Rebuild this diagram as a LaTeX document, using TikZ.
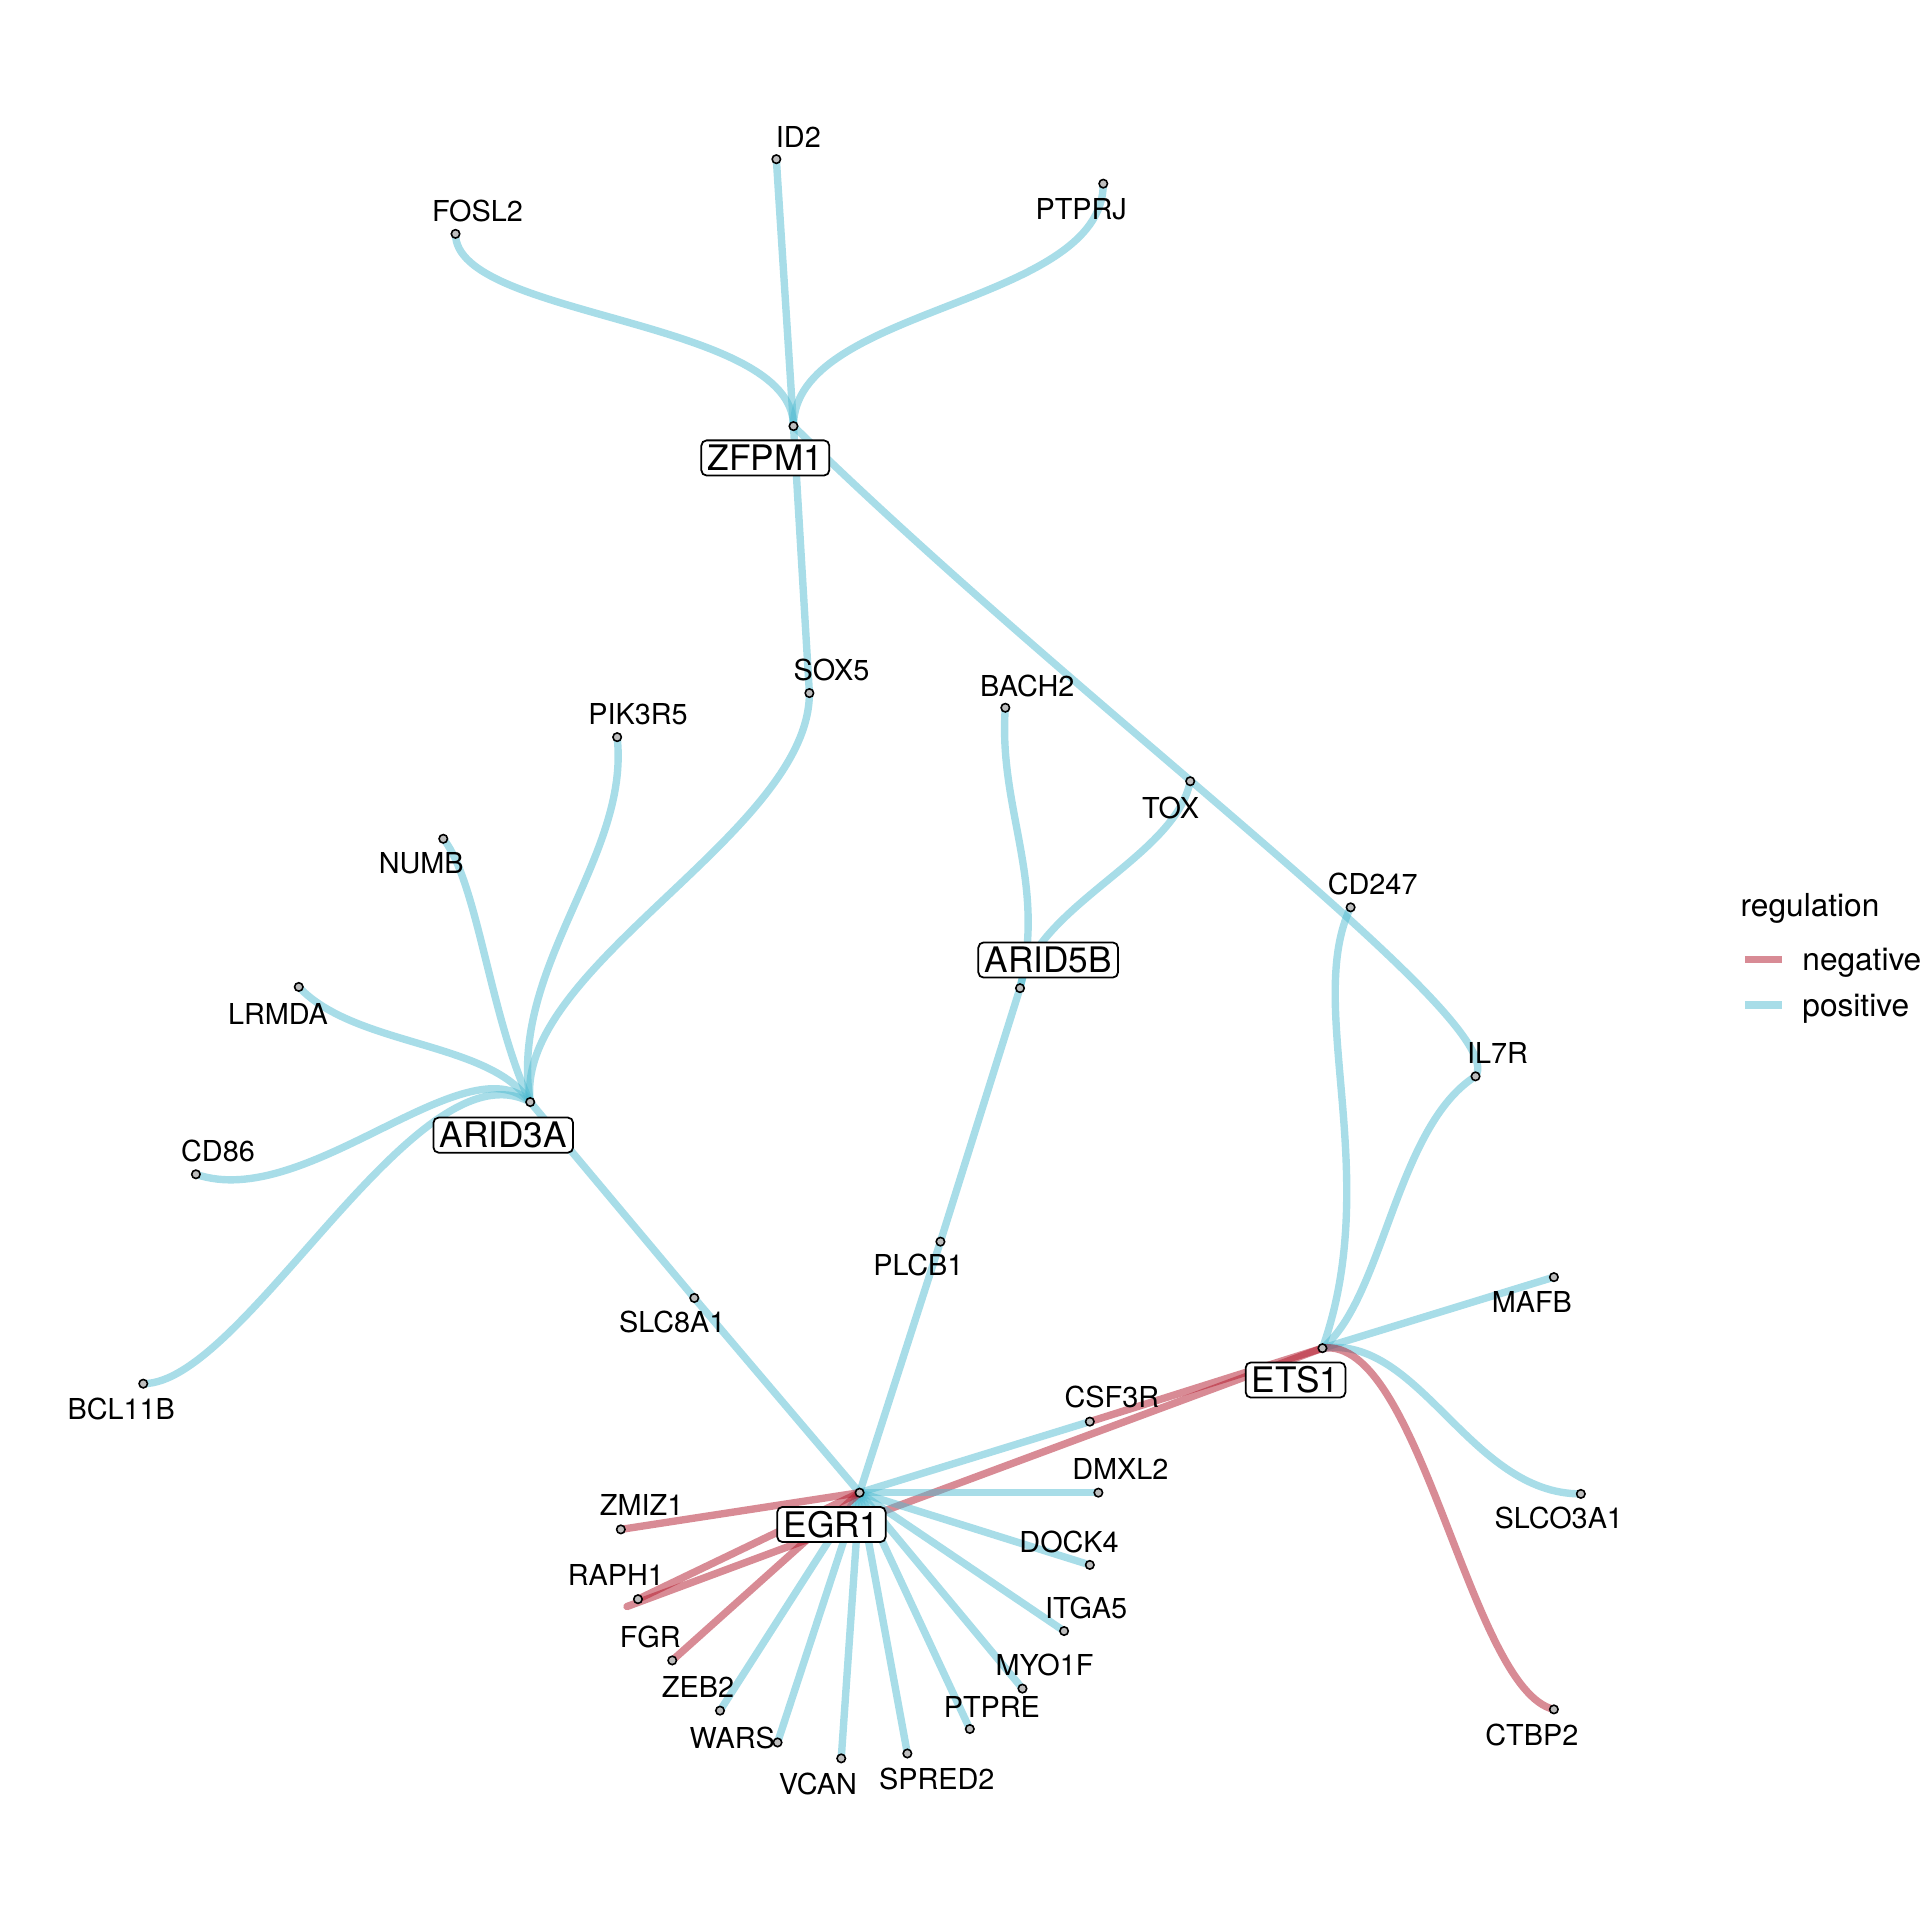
\documentclass[tikz,border=0pt]{standalone}
\usepackage{fontspec}
\setmainfont{TeX Gyre Heros}
\usetikzlibrary{backgrounds}
\definecolor{posblue}{RGB}{81,187,209}
\definecolor{negred}{RGB}{178,24,43}
\definecolor{dotgray}{RGB}{190,190,190}

\begin{document}
\begin{tikzpicture}[x=0.012245cm,y=-0.012245cm]
  \tikzstyle{point}=[circle,draw=black,fill=dotgray,line width=0.45pt,inner sep=0pt,minimum size=2.4pt]
  \tikzstyle{gene}=[font=\fontsize{8.2}{9}\selectfont,inner sep=0pt]
  \tikzstyle{tf}=[draw=black,fill=white,rounded corners=1.5pt,line width=0.5pt,font=\fontsize{10}{12}\selectfont,inner xsep=1.8pt,inner ysep=1.4pt,text height=7.2pt,text depth=0pt]
  \tikzstyle{posedge}=[draw=posblue,line width=2.1pt,draw opacity=0.5,line cap=round]
  \tikzstyle{negedge}=[draw=negred,line width=2.1pt,draw opacity=0.5,line cap=round]
  \useasboundingbox (0,0) rectangle (1568,1568);
  % regulators
  \node[point] (zfpm1) at (648,348) {};
  \node[point] (arid5b) at (833,807) {};
  \node[point] (arid3a) at (433,900) {};
  \node[point] (ets1) at (1080,1101) {};
  \node[point] (egr1) at (702,1219) {};
  % targets
  \node[point] (id2) at (634,130) {};
  \node[point] (fosl2) at (372,191) {};
  \node[point] (ptprj) at (901,150) {};
  \node[point] (sox5) at (661,566) {};
  \node[point] (pik3r5) at (504,602) {};
  \node[point] (bach2) at (821,578) {};
  \node[point] (tox) at (972,638) {};
  \node[point] (numb) at (362,685) {};
  \node[point] (cd247) at (1103,741) {};
  \node[point] (lrmda) at (244,806) {};
  \node[point] (il7r) at (1205,879) {};
  \node[point] (cd86) at (160,959) {};
  \node[point] (plcb1) at (768,1014) {};
  \node[point] (mafb) at (1269,1043) {};
  \node[point] (slc8a1) at (567,1060) {};
  \node[point] (bcl11b) at (117,1130) {};
  \node[point] (csf3r) at (890,1161) {};
  \node[point] (dmxl2) at (897,1219) {};
  \node[point] (slco3a1) at (1291,1220) {};
  \node[point] (zmiz1) at (507,1249) {};
  \node[point] (dock4) at (890,1278) {};
  \node[point] (raph1) at (521,1306) {};
  \node[point] (itga5) at (869,1332) {};
  \node[point] (fgr) at (549,1356) {};
  \node[point] (myo1f) at (835,1379) {};
  \node[point] (zeb2) at (588,1397) {};
  \node[point] (ctbp2) at (1269,1396) {};
  \node[point] (ptpre) at (792,1412) {};
  \node[point] (wars) at (635,1423) {};
  \node[point] (vcan) at (687,1436) {};
  \node[point] (spred2) at (741,1432) {};
  \coordinate (raph1end) at (512,1312);

  \begin{scope}[on background layer]
    % ZFPM1
    \draw[posedge] (zfpm1.center) -- (id2.center);
    \draw[posedge] (zfpm1.center) .. controls (648,260) and (372,260) .. (fosl2.center);
    \draw[posedge] (zfpm1.center) .. controls (648,250) and (901,250) .. (ptprj.center);
    \draw[posedge] (zfpm1.center) -- (sox5.center);
    \draw[posedge] (zfpm1.center) .. controls (890,585) and (1235,835) .. (il7r.center);
    % ARID5B
    \draw[posedge] (arid5b.center) .. controls (855,720) and (815,660) .. (bach2.center);
    \draw[posedge] (arid5b.center) .. controls (845,740) and (960,700) .. (tox.center);
    \draw[posedge] (arid5b.center) -- (plcb1.center);
    % ARID3A
    \draw[posedge] (arid3a.center) .. controls (420,790) and (661,680) .. (sox5.center);
    \draw[posedge] (arid3a.center) .. controls (415,790) and (515,700) .. (pik3r5.center);
    \draw[posedge] (arid3a.center) .. controls (400,830) and (390,720) .. (numb.center);
    \draw[posedge] (arid3a.center) .. controls (400,850) and (290,855) .. (lrmda.center);
    \draw[posedge] (arid3a.center) .. controls (380,850) and (250,990) .. (cd86.center);
    \draw[posedge] (arid3a.center) .. controls (340,850) and (200,1130) .. (bcl11b.center);
    \draw[posedge] (arid3a.center) -- (slc8a1.center);
    % ETS1
    \draw[posedge] (ets1.center) .. controls (1130,960) and (1065,820) .. (cd247.center);
    \draw[posedge] (ets1.center) .. controls (1130,1060) and (1140,920) .. (il7r.center);
    \draw[posedge] (ets1.center) -- (mafb.center);
    \draw[posedge] (ets1.center) .. controls (1160,1090) and (1200,1220) .. (slco3a1.center);
    \draw[negedge] (ets1.center) .. controls (1160,1090) and (1200,1380) .. (ctbp2.center);
    \draw[negedge] (ets1.center) -- (csf3r.center);
    \draw[negedge] (ets1.center) -- (raph1end);
    % EGR1
    \foreach \t in {slc8a1,plcb1,csf3r,dmxl2,dock4,itga5,myo1f,ptpre,spred2,vcan,wars,zeb2}
      \draw[posedge] (egr1.center) -- (\t.center);
    \foreach \t in {zmiz1,raph1,fgr}
      \draw[negedge] (egr1.center) -- (\t.center);
  \end{scope}

  % labels
  \node[tf] (zfpm1-l) at (625,374) {ZFPM1};
  \node[tf] (arid5b-l) at (856,784) {ARID5B};
  \node[tf] (arid3a-l) at (411,927) {ARID3A};
  \node[tf] (ets1-l) at (1058,1127) {ETS1};
  \node[tf] (egr1-l) at (679,1245) {EGR1};
  \node[gene] (id2-l) at (652,112) {ID2};
  \node[gene] (fosl2-l) at (390,172) {FOSL2};
  \node[gene] (ptprj-l) at (883,171) {PTPRJ};
  \node[gene] (sox5-l) at (679,547) {SOX5};
  \node[gene] (pik3r5-l) at (521,583) {PIK3R5};
  \node[gene] (bach2-l) at (839,560) {BACH2};
  \node[gene] (tox-l) at (956,660) {TOX};
  \node[gene] (numb-l) at (344,705) {NUMB};
  \node[gene] (cd247-l) at (1121,722) {CD247};
  \node[gene] (lrmda-l) at (227,828) {LRMDA};
  \node[gene] (il7r-l) at (1223,860) {IL7R};
  \node[gene] (cd86-l) at (178,940) {CD86};
  \node[gene] (plcb1-l) at (750,1033) {PLCB1};
  \node[gene] (mafb-l) at (1251,1063) {MAFB};
  \node[gene] (slc8a1-l) at (549,1080) {SLC8A1};
  \node[gene] (bcl11b-l) at (99,1151) {BCL11B};
  \node[gene] (csf3r-l) at (908,1141) {CSF3R};
  \node[gene] (dmxl2-l) at (915,1200) {DMXL2};
  \node[gene] (slco3a1-l) at (1273,1240) {SLCO3A1};
  \node[gene] (zmiz1-l) at (524,1229) {ZMIZ1};
  \node[gene] (dock4-l) at (873,1259) {DOCK4};
  \node[gene] (raph1-l) at (503,1286) {RAPH1};
  \node[gene] (itga5-l) at (887,1313) {ITGA5};
  \node[gene] (fgr-l) at (531,1337) {FGR};
  \node[gene] (myo1f-l) at (853,1360) {MYO1F};
  \node[gene] (zeb2-l) at (570,1378) {ZEB2};
  \node[gene] (ctbp2-l) at (1251,1417) {CTBP2};
  \node[gene] (ptpre-l) at (810,1394) {PTPRE};
  \node[gene] (wars-l) at (598,1419) {WARS};
  \node[gene] (vcan-l) at (668,1457) {VCAN};
  \node[gene] (spred2-l) at (765,1453) {SPRED2};

  % legend
  \node[anchor=base west,inner sep=0pt,font=\fontsize{9}{11}\selectfont] (legtitle) at (1421,748.6) {regulation};
  \coordinate (negkeyA) at (1425,783.4);
  \coordinate (negkeyB) at (1455,783.4);
  \coordinate (poskeyA) at (1425,820.7);
  \coordinate (poskeyB) at (1455,820.7);
  \draw[negedge,line cap=butt] (negkeyA) -- (negkeyB);
  \draw[posedge,line cap=butt] (poskeyA) -- (poskeyB);
  \node[anchor=base west,inner sep=0pt,font=\fontsize{9}{11}\selectfont] (negtext) at (1471.4,792.2) {negative};
  \node[anchor=base west,inner sep=0pt,font=\fontsize{9}{11}\selectfont] (postext) at (1471.4,830.3) {positive};
\end{tikzpicture}
\end{document}
